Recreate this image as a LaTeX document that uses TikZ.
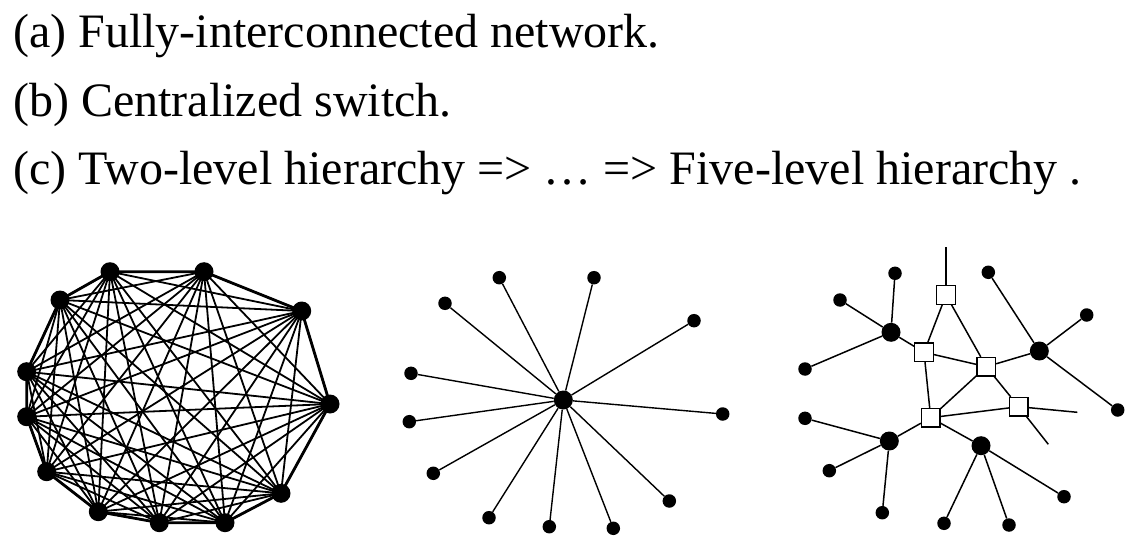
\documentclass[tikz,border=0pt]{standalone}
\usepackage{fontspec}
\setmainfont{Liberation Serif}
\begin{document}
\begin{tikzpicture}[x=1pt,y=-1pt,
  bigdot/.style={circle,fill=black,inner sep=0pt,minimum size=19pt},
  hubdot/.style={circle,fill=black,inner sep=0pt,minimum size=19pt},
  leafdot/.style={circle,fill=black,inner sep=0pt,minimum size=13.5pt},
  swbox/.style={rectangle,draw=black,fill=white,line width=1.2pt,inner sep=0pt,minimum size=18.5pt},
  meshedge/.style={line width=1.8pt},
  rimedge/.style={line width=2.8pt},
  staredge/.style={line width=1.4pt},
  treeedge/.style={line width=1.5pt},
  caption/.style={anchor=base west,inner sep=0pt,font=\fontsize{48}{58}\selectfont}]
\useasboundingbox (0,0) rectangle (1137,545);
% captions
\node[caption] (ta) at (13,48) {(a) Fully-interconnected network.};
\node[caption] (tb) at (13,117) {(b) Centralized switch.};
\node[caption] (tc) at (13,185) {(c) Two-level hierarchy => … => Five-level hierarchy .};
% (a) fully interconnected
\foreach \n/\x/\y in {1/110/271.7,2/204/271.7,3/301.7/311,4/330/404,5/281/493.3,6/225/522.7,7/159.3/522.7,8/98.3/511.7,9/46.7/471.7,10/26.7/416.7,11/26.7/371.7,12/60/300}
  \coordinate (a\n) at (\x,\y);
\foreach \i in {1,...,11}{
  \pgfmathtruncatemacro{\s}{\i+1}
  \foreach \j in {\s,...,12}{
    \draw[meshedge] (a\i) -- (a\j);
  }
}
\draw[rimedge] (a1)--(a2)--(a3)--(a4)--(a5)--(a6)--(a7)--(a8)--(a9)--(a10)--(a11)--(a12)--cycle;
\foreach \n in {1,...,12} \node[bigdot] (na\n) at (a\n) {};
% (b) centralized switch
\node[hubdot] (hub) at (563.3,400) {};
\foreach \n/\x/\y in {1/499.3/277.7,2/594/277.7,3/445/303.3,4/694/320.7,5/411/373.3,6/722.7/414,7/409.3/421.7,8/433.3/473.3,9/669.3/501,10/489/517.7,11/549.3/526.7,12/613.3/528.3}{
  \node[leafdot] (b\n) at (\x,\y) {};
  \draw[staredge] (hub) -- (b\n);
}
% (c) hierarchy
\node[swbox] (s1) at (946,295) {};
\node[swbox] (s2) at (924,352.3) {};
\node[swbox] (s3) at (986.3,366.7) {};
\node[swbox] (s4) at (1018.7,406.7) {};
\node[swbox] (s5) at (930.7,417.7) {};
\node[bigdot] (h1) at (891,332.3) {};
\node[bigdot] (h2) at (1039.3,351) {};
\node[bigdot] (h3) at (889.3,441) {};
\node[bigdot] (h4) at (981,445.7) {};
\coordinate (top) at (946,247.3);
\coordinate (f1) at (1077.3,412.3);
\coordinate (f2) at (1048.3,444.3);
\draw[treeedge] (s1) -- (top);
\draw[treeedge] (s1) -- (s2);
\draw[treeedge] (s1) -- (s3);
\draw[treeedge] (s2) -- (s3);
\draw[treeedge] (s2) -- (h1);
\draw[treeedge] (s2) -- (s5);
\draw[treeedge] (s3) -- (s5);
\draw[treeedge] (s3) -- (h2);
\draw[treeedge] (s3) -- (s4);
\draw[treeedge] (s4) -- (s5);
\draw[treeedge] (s4) -- (f1);
\draw[treeedge] (s4) -- (f2);
\draw[treeedge] (s5) -- (h3);
\draw[treeedge] (s5) -- (h4);
\foreach \n/\p/\x/\y in {1/h1/895/273.3,2/h1/840/300,3/h1/805/369,
  4/h2/988.3/272.3,5/h2/1086.7/315,6/h2/1117.7/410,
  7/h3/805/418.3,8/h3/829.3/470.7,9/h3/882.3/512.7,
  10/h4/944/523.3,11/h4/1009/525,12/h4/1064/496.7}{
  \node[leafdot] (c\n) at (\x,\y) {};
  \draw[treeedge] (\p) -- (c\n);
}
\end{tikzpicture}
\end{document}
